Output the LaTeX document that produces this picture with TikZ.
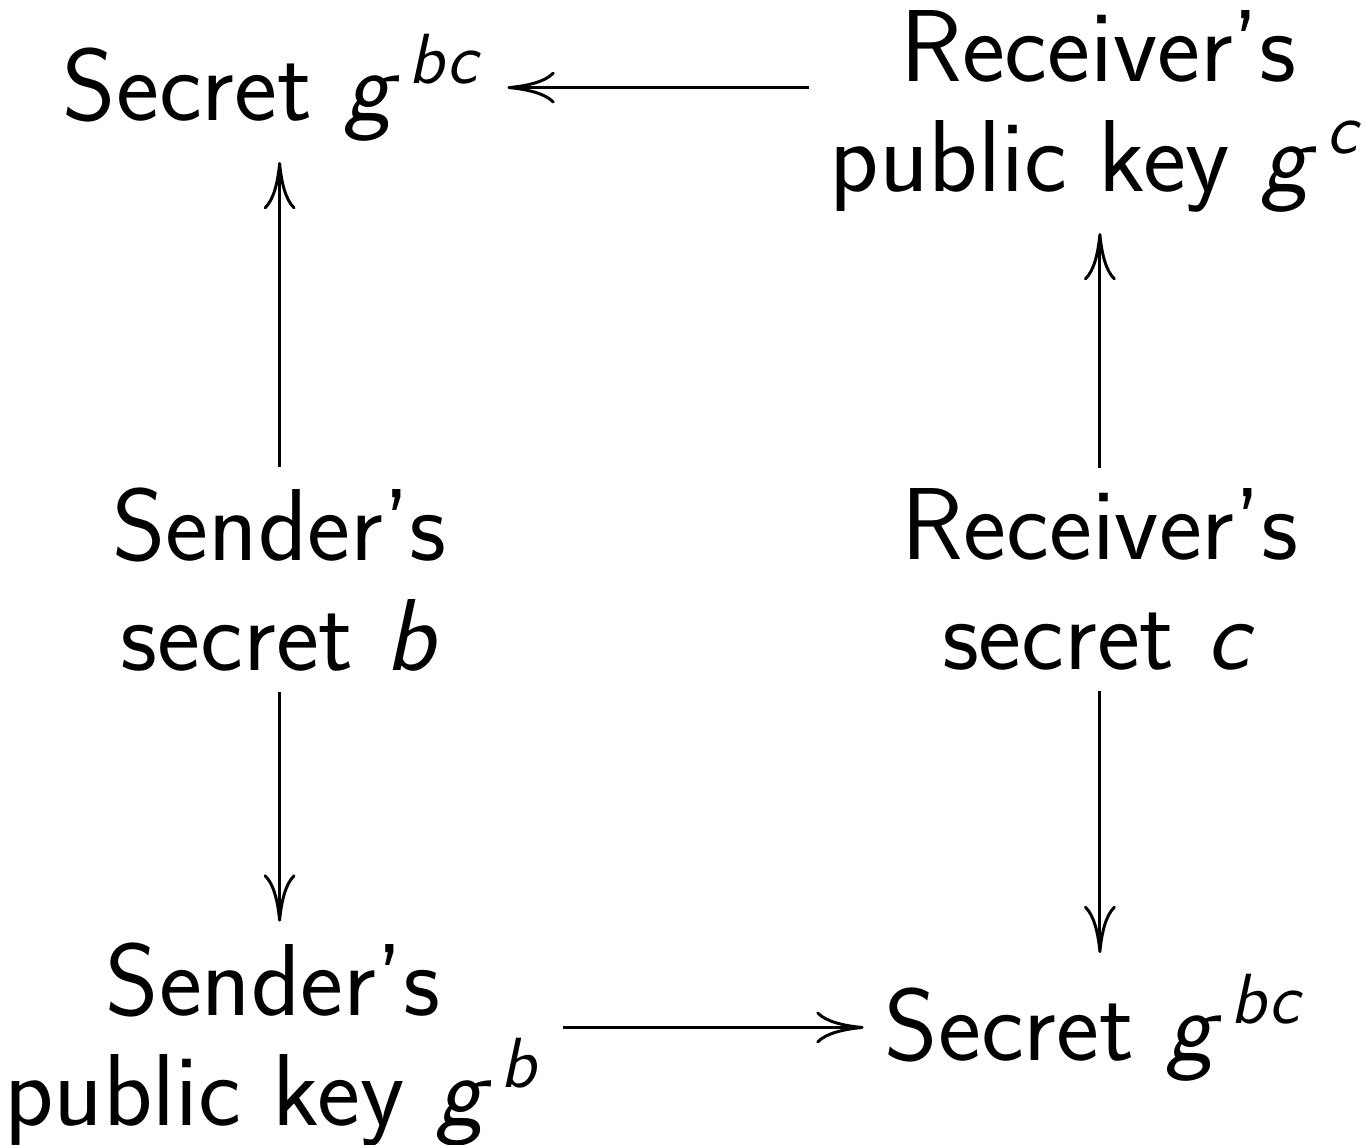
\documentclass[tikz,border=0pt]{standalone}
\usepackage{tikz}
\usetikzlibrary{arrows.meta}
\renewcommand{\familydefault}{\sfdefault}
% slanted sans letters in math
\DeclareSymbolFont{sfletters}{OT1}{cmss}{m}{sl}
\DeclareMathSymbol{b}{\mathalpha}{sfletters}{`b}
\DeclareMathSymbol{c}{\mathalpha}{sfletters}{`c}
\DeclareMathSymbol{g}{\mathalpha}{sfletters}{`g}
\DeclareMathSizes{17.28}{17.28}{13}{10}

\begin{document}
\begin{tikzpicture}[>={Computer Modern Rightarrow[length=8pt,width=5.4pt]}, line width=0.5pt,
    every node/.style={font=\fontsize{17.28}{18.5}\selectfont}]
  \useasboundingbox (0,0) rectangle (8.104,-6.792);

  \node (sharedS) at (1.63,-0.52) {Secret $g^{\mkern1.5mu bc}$};
  \node (recvpub) at (6.52,-0.66) [align=center] {Receiver's\\public key $g^{\mkern1.5mu c}$};
  \node (sendsec) at (1.66,-3.44) [align=center] {Sender's\\secret $b$};
  \node (recvsec) at (6.53,-3.44) [align=center] {Receiver's\\secret $c$};
  \node (sendpub) at (1.62,-6.20) [align=center] {Sender's\\public key $g^{\mkern1.5mu b}$};
  \node (sharedR) at (6.51,-6.10) {Secret $g^{\mkern1.5mu bc}$};

  \draw[->] (recvpub.west |- sharedS) -- (sharedS.east);
  \draw[->] (sendsec.north) -- (sendsec.north |- sharedS.south);
  \draw[->] (sendsec.south) -- (sendsec.south |- sendpub.north);
  \draw[->] (recvsec.north) -- (recvsec.north |- recvpub.south);
  \draw[->] (recvsec.south) -- (recvsec.south |- sharedR.north);
  \draw[->] (sendpub.east |- sharedR) -- (sharedR.west);
\end{tikzpicture}
\end{document}
